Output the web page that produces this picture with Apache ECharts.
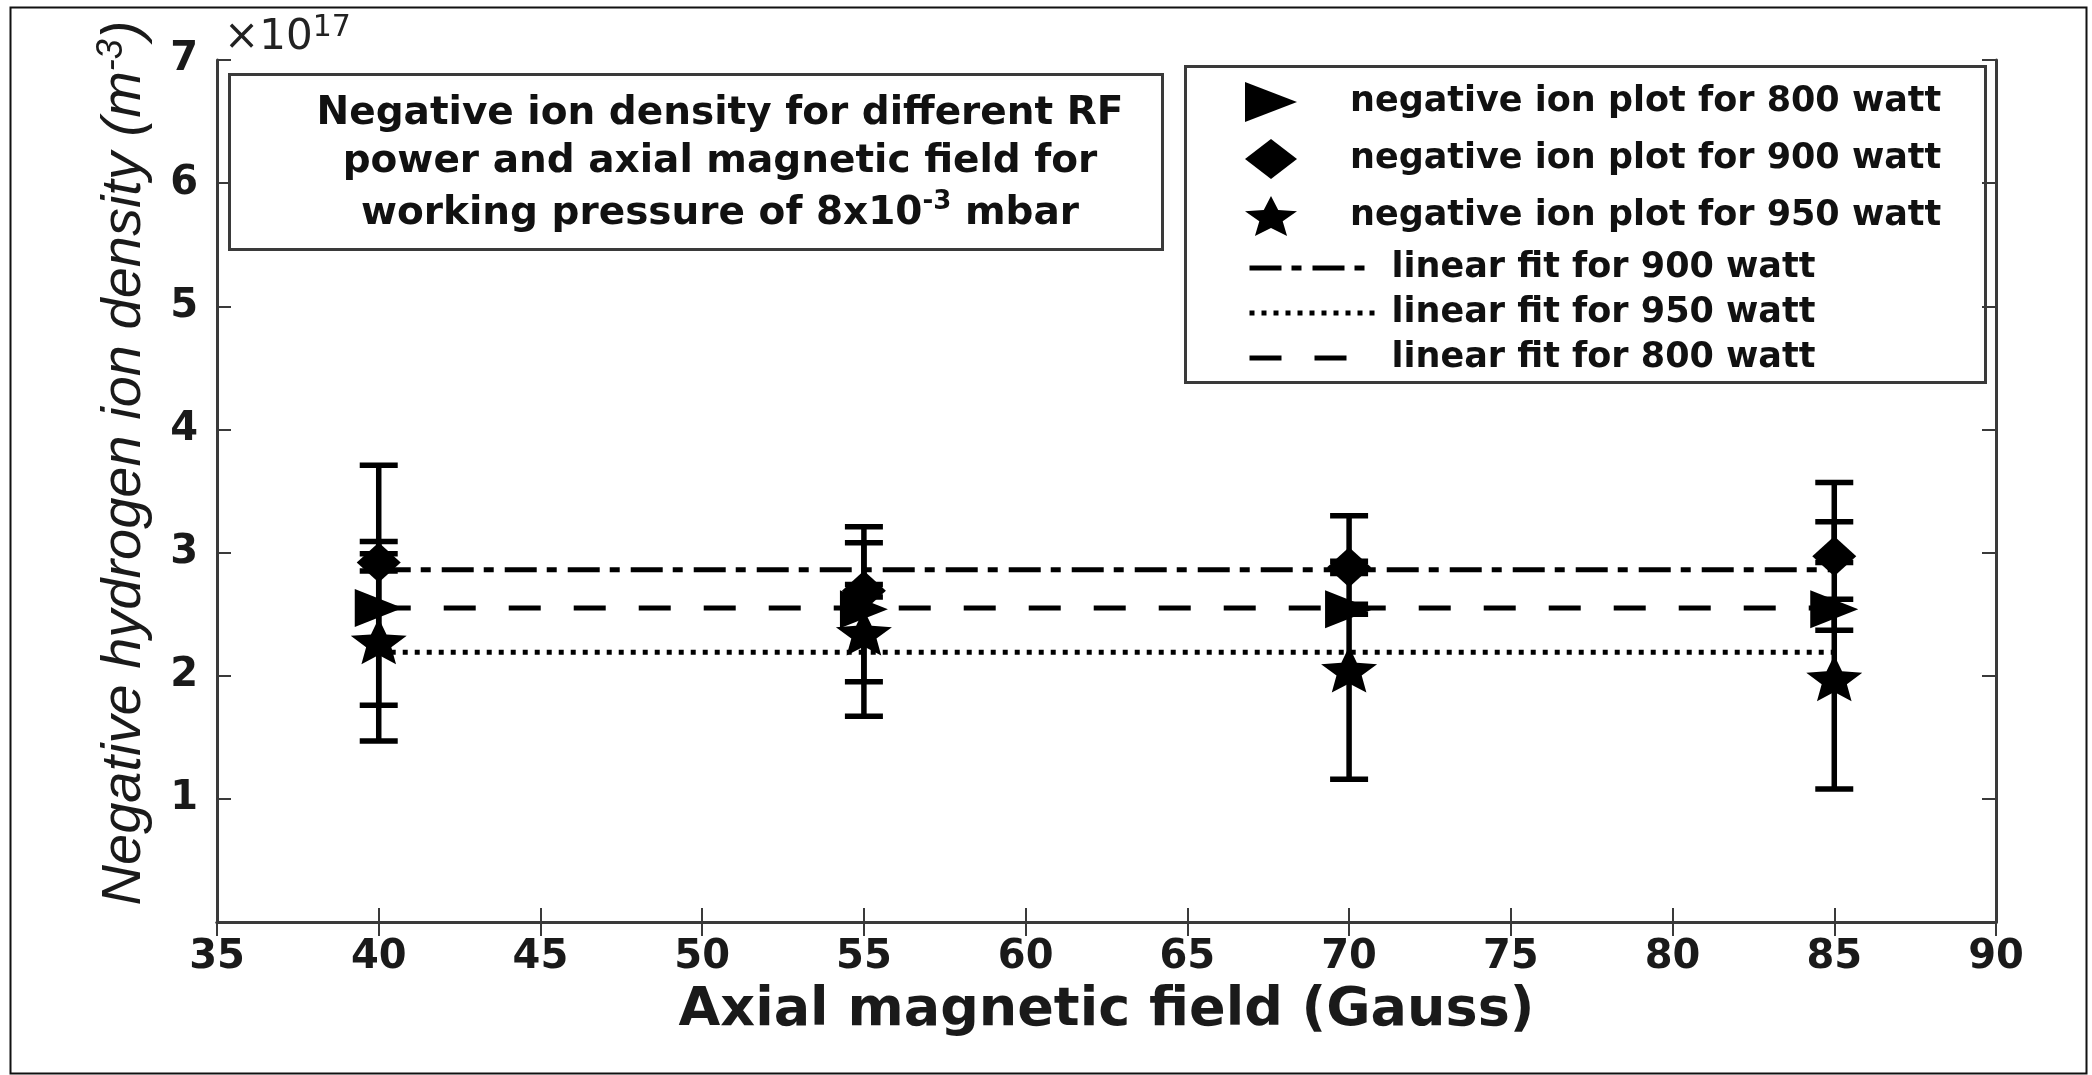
<!DOCTYPE html>
<html>
<head>
<meta charset="utf-8">
<script src="https://cdn.jsdelivr.net/npm/echarts@6/dist/echarts.min.js"></script>
<style>
html,body{margin:0;padding:0;background:#fff;}
#chart{width:2092px;height:1075px;}
</style>
</head>
<body>
<div id="chart"></div>
<script>
// ---- data (values in units of 1e17 m^-3) ----
const fieldGauss = [40, 55, 70, 85];
const ion800 = [2.55, 2.54, 2.54, 2.54];
const ion900 = [2.92, 2.69, 2.88, 2.97];
const ion950 = [2.28, 2.35, 2.05, 1.98];
const err800Low  = [1.47, 1.95, 2.50, 2.37];
const err800High = [3.71, 3.08, 2.58, 2.62];
const err900Low  = [2.85, 2.64, 2.83, 2.92];
const err900High = [2.99, 2.74, 2.93, 3.25];
const err950Low  = [1.76, 1.67, 1.16, 1.08];
const err950High = [3.09, 3.21, 3.30, 3.57];
const fitX = [40, 85];
const fit900 = [2.86, 2.86];
const fit950 = [2.19, 2.19];
const fit800 = [2.55, 2.55];
const xTicks = [35, 40, 45, 50, 55, 60, 65, 70, 75, 80, 85, 90];
const yTicks = [0, 1, 2, 3, 4, 5, 6, 7];

const names = {
  p800: 'negative ion plot for 800 watt',
  p900: 'negative ion plot for 900 watt',
  p950: 'negative ion plot for 950 watt',
  f900: 'linear fit for 900 watt',
  f950: 'linear fit for 950 watt',
  f800: 'linear fit for 800 watt'
};

const TRI = 'path://M0,0L10,5L0,10Z';
const STAR = 'path://M100,0L126.45,63.6L195.1,69.1L142.8,113.9L158.78,180.9L100,145L41.22,180.9L57.2,113.9L4.9,69.1L73.55,63.6Z';

function pts(xs, ys) { return xs.map((x, i) => [x, ys[i]]); }
function errPts(xs, lo, hi) { return xs.map((x, i) => [x, lo[i], hi[i]]); }

function errRender(params, api) {
  const x = api.value(0), lo = api.value(1), hi = api.value(2);
  const a = api.coord([x, lo]), b = api.coord([x, hi]);
  const hw = 19;
  const st = {stroke: '#000', lineWidth: 5.5};
  return {type: 'group', children: [
    {type: 'line', shape: {x1: a[0], y1: a[1], x2: b[0], y2: b[1]}, style: st},
    {type: 'line', shape: {x1: a[0] - hw, y1: a[1], x2: a[0] + hw, y2: a[1]}, style: st},
    {type: 'line', shape: {x1: b[0] - hw, y1: b[1], x2: b[0] + hw, y2: b[1]}, style: st}
  ]};
}

const axisCol = '#3a3a3a';
const boldFont = 'DejaVu Sans';

const chart = echarts.init(document.getElementById('chart'));
chart.setOption({
  animation: false,
  backgroundColor: '#fff',
  grid: {left: 217, right: 96, top: 60, bottom: 153, show: false, containLabel: false, outerBoundsMode: 'none'},
  xAxis: [{
    type: 'value', min: xTicks[0], max: xTicks[xTicks.length - 1], interval: 5,
    position: 'bottom',
    axisLine: {show: true, lineStyle: {color: axisCol, width: 3}},
    axisTick: {show: true, inside: true, length: 14, lineStyle: {color: axisCol, width: 2}},
    splitLine: {show: false},
    axisLabel: {color: '#1a1a1a', fontFamily: boldFont, fontWeight: 'bold', fontSize: 40, margin: 16},
    name: 'Axial magnetic field (Gauss)', nameLocation: 'middle', nameGap: 62,
    nameTextStyle: {color: '#1a1a1a', fontFamily: boldFont, fontWeight: 'bold', fontSize: 54}
  }, {
    type: 'value', min: xTicks[0], max: xTicks[xTicks.length - 1], interval: 5,
    position: 'top',
    axisLine: {show: true, lineStyle: {color: axisCol, width: 3}},
    axisTick: {show: true, inside: true, length: 14, lineStyle: {color: axisCol, width: 2}},
    splitLine: {show: false}, axisLabel: {show: false}
  }],
  yAxis: [{
    type: 'value', min: yTicks[0], max: yTicks[yTicks.length - 1], interval: 1,
    position: 'left',
    axisLine: {show: true, lineStyle: {color: axisCol, width: 3}},
    axisTick: {show: true, inside: true, length: 14, lineStyle: {color: axisCol, width: 2}},
    splitLine: {show: false},
    axisLabel: {color: '#1a1a1a', fontFamily: boldFont, fontWeight: 'bold', fontSize: 40, margin: 19,
      formatter: v => (v === 0 ? '' : String(v))}
  }, {
    type: 'value', min: yTicks[0], max: yTicks[yTicks.length - 1], interval: 1,
    position: 'right',
    axisLine: {show: true, lineStyle: {color: axisCol, width: 3}},
    axisTick: {show: true, inside: true, length: 14, lineStyle: {color: axisCol, width: 2}},
    splitLine: {show: false}, axisLabel: {show: false}
  }],
  legend: [{
    data: [names.p800, names.p900, names.p950],
    orient: 'vertical', left: 1240, top: 77,
    itemWidth: 52, itemHeight: 40, itemGap: 17, symbolKeepAspect: false,
    selectedMode: false,
    textStyle: {color: '#111', fontFamily: boldFont, fontWeight: 'bold', fontSize: 35, lineHeight: 40, padding: [0, 0, 0, 48]}
  }, {
    data: [names.f900, names.f950, names.f800],
    orient: 'vertical', left: 1242, top: 245,
    itemWidth: 125, itemHeight: 36, itemGap: 9,
    selectedMode: false,
    itemStyle: {opacity: 0},
    lineStyle: {width: 5, cap: 'butt', color: '#000'},
    textStyle: {color: '#111', fontFamily: boldFont, fontWeight: 'bold', fontSize: 35, lineHeight: 36, padding: [0, 0, 0, 12]}
  }],
  graphic: [
    {type: 'rect', left: 8, top: 5, shape: {width: 2076, height: 1066}, style: {fill: 'none', stroke: '#111', lineWidth: 2}, z: 0},
    {type: 'rect', left: 227, top: 72, shape: {width: 933, height: 175}, style: {fill: 'none', stroke: axisCol, lineWidth: 3}, z: 1},
    {type: 'rect', left: 1183, top: 64, shape: {width: 800, height: 316}, style: {fill: 'none', stroke: axisCol, lineWidth: 3}, z: 1},
    {type: 'text', x: 720, y: 114, style: {text: 'Negative ion density for different RF', textAlign: 'center', textVerticalAlign: 'middle',
      fill: '#111', font: 'bold 39px "DejaVu Sans"'}},
    {type: 'text', x: 720, y: 162, style: {text: 'power and axial magnetic field for', textAlign: 'center', textVerticalAlign: 'middle',
      fill: '#111', font: 'bold 39px "DejaVu Sans"'}},
    {type: 'text', x: 720, y: 214, style: {text: 'working pressure of 8x10{sup|-3} mbar', textAlign: 'center', textVerticalAlign: 'middle',
      fill: '#111', font: 'bold 39px "DejaVu Sans"', lineHeight: 50,
      rich: {sup: {font: 'bold 26px "DejaVu Sans"', fill: '#111', verticalAlign: 'top', lineHeight: 50}}}},
    {type: 'text', x: 224, y: 38, style: {text: '×10{sup|17}', textAlign: 'left', textVerticalAlign: 'middle',
      fill: '#222', font: '42px "DejaVu Sans"', lineHeight: 50,
      rich: {sup: {font: '30px "DejaVu Sans"', fill: '#222', verticalAlign: 'top', lineHeight: 50}}}},
    {type: 'text', x: 124, y: 463, rotation: Math.PI / 2,
      style: {text: 'Negative hydrogen ion density (m{sup|-3})', textAlign: 'center', textVerticalAlign: 'middle',
        fill: '#1a1a1a', font: 'italic 56px "Liberation Sans"', lineHeight: 60,
        rich: {sup: {font: 'italic 36px "Liberation Sans"', fill: '#1a1a1a', verticalAlign: 'top', lineHeight: 60}}}}
  ],
  series: [
    {name: names.f900, type: 'line', data: pts(fitX, fit900), symbol: 'none', z: 2,
      lineStyle: {color: '#000', width: 5, type: [32, 10, 10, 11], cap: 'butt'}, itemStyle: {color: '#000'}},
    {name: names.f950, type: 'line', data: pts(fitX, fit950), symbol: 'none', z: 2,
      lineStyle: {color: '#000', width: 5, type: [5, 7], cap: 'butt'}, itemStyle: {color: '#000'}},
    {name: names.f800, type: 'line', data: pts(fitX, fit800), symbol: 'none', z: 2,
      lineStyle: {color: '#000', width: 5, type: [32, 33], cap: 'butt'}, itemStyle: {color: '#000'}},
    {type: 'custom', renderItem: errRender, data: errPts(fieldGauss, err800Low, err800High), encode: {x: 0, y: [1, 2]}, z: 3},
    {type: 'custom', renderItem: errRender, data: errPts(fieldGauss, err900Low, err900High), encode: {x: 0, y: [1, 2]}, z: 3},
    {type: 'custom', renderItem: errRender, data: errPts(fieldGauss, err950Low, err950High), encode: {x: 0, y: [1, 2]}, z: 3},
    {name: names.p800, type: 'scatter', data: pts(fieldGauss, ion800), symbol: TRI, symbolSize: [48, 38], z: 4,
      itemStyle: {color: '#000', opacity: 1}},
    {name: names.p900, type: 'scatter', data: pts(fieldGauss, ion900), symbol: 'diamond', symbolSize: [44, 40], z: 4,
      itemStyle: {color: '#000', opacity: 1}},
    {name: names.p950, type: 'scatter', data: pts(fieldGauss, ion950), symbol: STAR, symbolSize: [56, 46], z: 4,
      itemStyle: {color: '#000', opacity: 1}}
  ]
});
</script>
</body>
</html>
